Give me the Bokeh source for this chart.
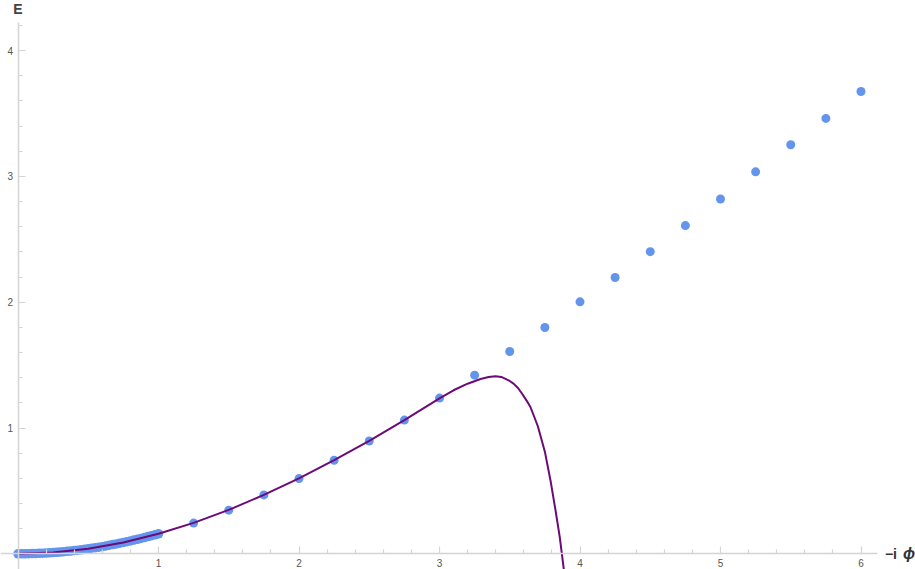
from bokeh.plotting import figure
from bokeh.models import LinearAxis, FixedTicker, Range1d, Label
from bokeh.embed import file_html
from bokeh.resources import INLINE

# ---- data ----
dense_x = [0.0, 0.025, 0.05, 0.075, 0.1, 0.125, 0.15, 0.175, 0.2, 0.225, 0.25,
           0.275, 0.3, 0.325, 0.35, 0.375, 0.4, 0.425, 0.45, 0.475, 0.5,
           0.525, 0.55, 0.575, 0.6, 0.625, 0.65, 0.675, 0.7, 0.725, 0.75,
           0.775, 0.8, 0.825, 0.85, 0.875, 0.9, 0.925, 0.95, 0.975, 1.0]
dense_y = [0.000, 0.000, 0.000, 0.001, 0.002, 0.002, 0.004, 0.005, 0.006, 0.008, 0.010,
           0.012, 0.014, 0.017, 0.020, 0.022, 0.026, 0.029, 0.032, 0.036, 0.040,
           0.044, 0.048, 0.053, 0.057, 0.062, 0.068, 0.073, 0.078, 0.084, 0.090,
           0.096, 0.102, 0.109, 0.115, 0.122, 0.129, 0.137, 0.144, 0.151, 0.159]

pts_x = [1.25, 1.5, 1.75, 2.0, 2.25, 2.5, 2.75, 3.0, 3.25, 3.5,
         3.75, 4.0, 4.25, 4.5, 4.75, 5.0, 5.25, 5.5, 5.75, 6.0]
pts_y = [0.244, 0.347, 0.468, 0.598, 0.744, 0.897, 1.063, 1.238, 1.420, 1.608,
         1.799, 2.003, 2.196, 2.402, 2.609, 2.820, 3.036, 3.252, 3.461, 3.675]

curve_x = [0.0, 0.25, 0.5, 0.75, 1.0, 1.25, 1.5, 1.75, 2.0, 2.25, 2.5, 2.75,
           3.0, 3.1, 3.2, 3.292, 3.35, 3.399, 3.44, 3.47, 3.50, 3.529, 3.56,
           3.588, 3.62, 3.648, 3.70, 3.75, 3.79, 3.826, 3.856, 3.88, 3.895]
curve_y = [0.0, 0.010, 0.040, 0.090, 0.159, 0.246, 0.349, 0.468, 0.600, 0.745, 0.898, 1.063,
           1.236, 1.300, 1.352, 1.389, 1.405, 1.412, 1.406, 1.391, 1.374, 1.351, 1.316,
           1.272, 1.218, 1.165, 1.014, 0.812, 0.583, 0.344, 0.132, -0.080, -0.220]

x_ticks = [1, 2, 3, 4, 5, 6]
x_minor = [0.2, 0.4, 0.6, 0.8, 1.2, 1.4, 1.6, 1.8, 2.2, 2.4, 2.6, 2.8, 3.2, 3.4, 3.6, 3.8,
           4.2, 4.4, 4.6, 4.8, 5.2, 5.4, 5.6, 5.8]
y_ticks = [1, 2, 3, 4]
y_minor = [0.2, 0.4, 0.6, 0.8, 1.2, 1.4, 1.6, 1.8, 2.2, 2.4, 2.6, 2.8, 3.2, 3.4, 3.6, 3.8, 4.2]

x_label_a = "\u2212i"
x_label_b = "\u03d5"
y_label = "E"

# ---- figure ----
W, H = 915, 569
xs = 140.5   # px per unit
ys = 125.8
x0 = -17.5 / xs
x1 = x0 + W / xs
y1 = 553.3 / ys
y0 = y1 - H / ys

p = figure(width=W, height=H, output_backend="svg", toolbar_location=None,
           x_range=Range1d(x0, x1), y_range=Range1d(y0, y1),
           x_axis_type=None, y_axis_type=None, min_border=0,
           outline_line_color=None, background_fill_color="white",
           border_fill_color="white")

FONT = "Liberation Sans"
AX_COL = "#d4d4d4"
LAB_COL = "#555555"

common = dict(axis_line_color=AX_COL, axis_line_width=1.5,
              major_tick_line_color=AX_COL, minor_tick_line_color=AX_COL,
              major_tick_in=7, major_tick_out=0, minor_tick_in=4, minor_tick_out=0,
              major_tick_line_width=1.2, minor_tick_line_width=1.2,
              major_label_text_font=FONT, major_label_text_font_size="10px",
              major_label_text_color=LAB_COL, major_label_standoff=5)

xaxis = LinearAxis(ticker=FixedTicker(ticks=x_ticks, minor_ticks=x_minor),
                   fixed_location=0, bounds=(-1, 6.12), **common)
yaxis = LinearAxis(ticker=FixedTicker(ticks=y_ticks, minor_ticks=y_minor),
                   fixed_location=0, bounds=(-0.2, 4.22),
                   major_label_orientation="horizontal", **common)
p.add_layout(xaxis, "below")
p.add_layout(yaxis, "left")

DOT = "#6495ED"
p.scatter(dense_x, dense_y, size=9.5, color=DOT, line_color=None)
p.scatter(pts_x, pts_y, size=9, color=DOT, line_color=None)
p.line(curve_x, curve_y, line_color="#6c0a78", line_width=2)

p.add_layout(Label(x=0, y=y1, y_offset=0, text=y_label, text_font=FONT,
                   text_font_style="bold", text_font_size="14px", text_color="#444444",
                   text_align="center", text_baseline="top"))
p.add_layout(Label(x=6.17, y=0, text=x_label_a, text_font=FONT, text_font_style="bold",
                   text_font_size="14px", text_color="#333333", text_align="left",
                   text_baseline="middle"))
p.add_layout(Label(x=6.17, y=0, x_offset=18, text=x_label_b, text_font=FONT,
                   text_font_style="bold italic",
                   text_font_size="16px", text_color="#333333", text_align="left",
                   text_baseline="middle"))

open("out.html", "w").write(file_html(p, INLINE))
